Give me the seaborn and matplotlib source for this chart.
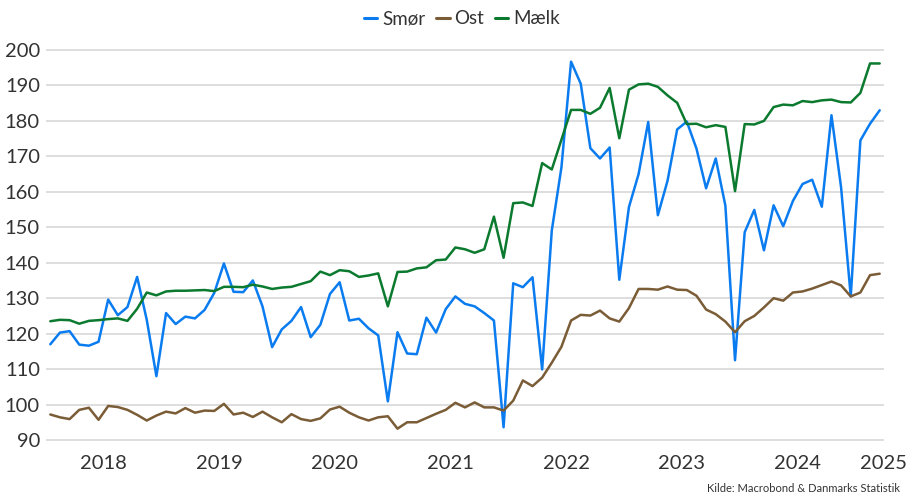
import numpy as np
import pandas as pd
import matplotlib
matplotlib.use("Agg")
import matplotlib.pyplot as plt
import seaborn as sns
from matplotlib.lines import Line2D

# Monthly data, Jan 2018 - Mar 2025
smor = [117.0, 120.3, 120.7, 116.9, 116.6, 117.7, 129.6, 125.2, 127.5, 136.0, 123.9, 108.0,
        125.8, 122.7, 124.8, 124.3, 126.7, 131.5, 139.8, 131.8, 131.7, 135.0, 127.7, 116.2,
        121.2, 123.6, 127.5, 119.0, 122.5, 131.2, 134.5, 123.7, 124.2, 121.5, 119.5, 100.9,
        120.4, 114.4, 114.2, 124.5, 120.3, 126.9, 130.5, 128.4, 127.7, 125.8, 123.7, 93.6,
        134.2, 133.1, 135.9, 109.9, 149.1, 166.9, 196.7, 190.5, 172.3, 169.4, 172.5, 135.2,
        155.7, 165.0, 179.7, 153.4, 163.1, 177.6, 179.8, 172.2, 161.0, 169.4, 156.1, 112.5,
        148.6, 154.9, 143.5, 156.2, 150.3, 157.4, 162.2, 163.4, 155.8, 181.6, 161.2, 130.5,
        174.5, 179.2, 183.0]
ost = [97.2, 96.4, 95.9, 98.5, 99.1, 95.7, 99.6, 99.3, 98.5, 97.1, 95.5, 96.9,
       98.0, 97.5, 99.0, 97.7, 98.3, 98.2, 100.2, 97.2, 97.7, 96.5, 98.0, 96.4,
       95.0, 97.3, 95.9, 95.4, 96.1, 98.6, 99.4, 97.7, 96.4, 95.5, 96.4, 96.7,
       93.2, 95.0, 95.0, 96.2, 97.4, 98.5, 100.5, 99.2, 100.6, 99.2, 99.2, 98.3,
       101.1, 106.8, 105.2, 107.6, 111.8, 116.3, 123.7, 125.3, 125.1, 126.5, 124.3, 123.4,
       127.2, 132.6, 132.6, 132.4, 133.3, 132.4, 132.3, 130.7, 126.8, 125.5, 123.4, 120.4,
       123.5, 125.0, 127.4, 130.0, 129.3, 131.6, 131.9, 132.7, 133.7, 134.7, 133.6, 130.5,
       131.6, 136.5, 136.9]
maelk = [123.5, 123.9, 123.8, 122.8, 123.6, 123.8, 124.1, 124.3, 123.6, 127.0, 131.6, 130.8,
         131.9, 132.1, 132.1, 132.2, 132.3, 132.0, 133.2, 133.2, 133.1, 133.8, 133.3, 132.6,
         133.0, 133.2, 134.0, 134.8, 137.5, 136.5, 137.9, 137.6, 136.0, 136.4, 137.0, 127.7,
         137.4, 137.5, 138.4, 138.7, 140.7, 140.9, 144.3, 143.8, 142.8, 143.8, 153.0, 141.4,
         156.8, 157.0, 156.0, 168.1, 166.3, 174.7, 183.1, 183.1, 182.0, 183.7, 189.3, 175.1,
         188.8, 190.3, 190.5, 189.6, 187.2, 185.1, 179.1, 179.2, 178.2, 178.8, 178.3, 160.2,
         179.1, 179.0, 180.0, 183.9, 184.6, 184.4, 185.6, 185.3, 185.8, 186.0, 185.3, 185.2,
         187.9, 196.2, 196.2]

years = ["2018", "2019", "2020", "2021", "2022", "2023", "2024", "2025"]
series_names = ["Smør", "Ost", "Mælk"]
colors = ["#0a7cf0", "#7a5c36", "#0b7a2f"]

n = len(smor)
month_idx = np.arange(n)
df = pd.DataFrame({
    "t": np.concatenate([month_idx] * 3),
    "v": np.concatenate([smor, ost, maelk]),
    "s": np.repeat(series_names, n),
})

sns.set_style("white")
plt.rcParams["font.family"] = ["Lato", "DejaVu Sans"]

fig = plt.figure(figsize=(9.06, 4.95), dpi=100)
ax = fig.add_axes([45.5 / 906, 1 - 447.1 / 495, (884.5 - 45.5) / 906, (447.1 - 42.9) / 495])

sns.lineplot(data=df, x="t", y="v", hue="s", hue_order=series_names,
             palette=colors, linewidth=1.8, ax=ax, legend=False, sort=False)

ax.set_xlim(-0.5, 86.5)
ax.set_ylim(88, 202)
ax.set_yticks(np.arange(90, 201, 10))
ax.yaxis.grid(True, color="#d4d4d4", linewidth=1.1)
ax.set_axisbelow(True)
for sp in ax.spines.values():
    sp.set_visible(False)

xt = [5.5 + 12 * k for k in range(7)] + [86.4]
ax.set_xticks(xt)
ax.set_xticklabels(years)
ax.tick_params(axis="x", length=0, pad=6, labelsize=14.5, colors="#333333")
ax.tick_params(axis="y", length=0, pad=4, labelsize=14.5, colors="#333333")
ax.set_xlabel("")
ax.set_ylabel("")

handles = [Line2D([0], [0], color=c, lw=2.2) for c in colors]
fig.legend(handles, series_names, loc="center", bbox_to_anchor=(462 / 906, 1 - 19 / 495),
           ncol=3, frameon=False, fontsize=13.5, handlelength=0.7, handletextpad=0.25,
           columnspacing=0.6, labelcolor="#333333")

fig.text(900 / 906, 1 - 489 / 495, "Kilde: Macrobond & Danmarks Statistik",
         ha="right", va="center", fontsize=8, color="#333333")

fig.savefig("out.png", dpi=100)
